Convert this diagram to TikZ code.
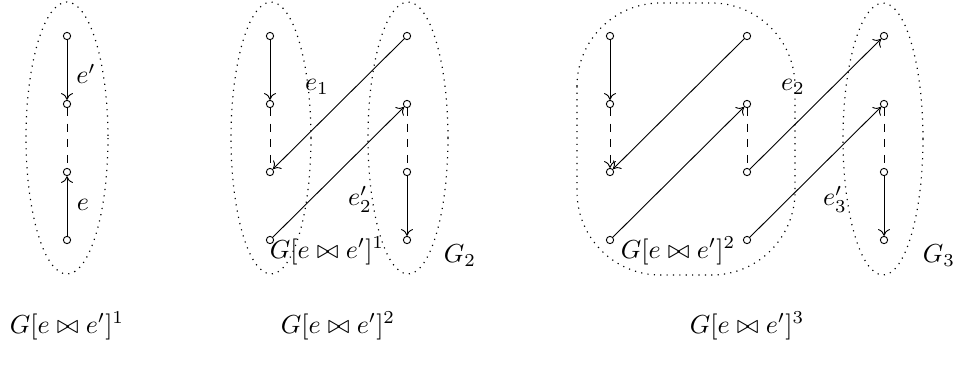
\documentclass[tikz,border=0pt]{standalone}
\usetikzlibrary{arrows.meta}
\begin{document}
\begin{tikzpicture}[x=0.384pt,y=-0.384pt,
  every node/.append style={font=\fontsize{9.6}{11}\selectfont},
  vtx/.style={circle,draw,inner sep=0pt,minimum size=2.8pt,line width=0.35pt},
  edg/.style={-{To[length=2.6pt,width=4.6pt]},line width=0.35pt},
  dsh/.style={dashed,line width=0.35pt},
  grp/.style={dotted,line width=0.45pt},
  lbl/.style={inner sep=0pt}]
\useasboundingbox (0,0) rectangle (954,365);
% picture 1
\foreach \n/\y in {1/36,2/104,3/172,4/240}{\node[vtx] (a\n) at (67,\y) {};}
\draw[edg] (a1) -- (a2);
\draw[dsh] (a2) -- (a3);
\draw[edg] (a4) -- (a3);
\node[lbl] (le1) at (86,74) {$e'$};
\node[lbl] (le) at (83,205) {$e$};
\draw[grp] (67,138) ellipse [x radius=41, y radius=136];
% picture 2
\foreach \n/\y in {1/36,2/104,3/172,4/240}{
  \node[vtx] (b\n) at (270,\y) {};
  \node[vtx] (c\n) at (407,\y) {};}
\draw[edg] (b1) -- (b2);
\draw[dsh] (b2) -- (b3);
\draw[edg] (c1) -- (b3);
\draw[edg] (b4) -- (c2);
\draw[dsh] (c2) -- (c3);
\draw[edg] (c3) -- (c4);
\draw[grp] (271,138) ellipse [x radius=40, y radius=136];
\draw[grp] (408,138) ellipse [x radius=40, y radius=136];
\node[lbl] (le2a) at (317,87) {$e_1$};
\node[lbl] (le2b) at (360,199) {$e_2'$};
\node[lbl] (lg1) at (327,251) {$G[e\bowtie e']^1$};
\node[lbl] (lG2) at (460,256) {$G_2$};
% picture 3
\foreach \n/\y in {1/36,2/104,3/172,4/240}{
  \node[vtx] (d\n) at (610,\y) {};
  \node[vtx] (f\n) at (747,\y) {};
  \node[vtx] (g\n) at (884,\y) {};}
\draw[edg] (d1) -- (d2);
\draw[edg,dashed] (d2) -- (d3);
\draw[edg] (f1) -- (d3);
\draw[edg] (d4) -- (f2);
\draw[dsh] (f2) -- (f3);
\draw[edg] (f3) -- (g1);
\draw[edg] (f4) -- (g2);
\draw[dsh] (g2) -- (g3);
\draw[edg] (g3) -- (g4);
\draw[grp,rounded corners=32] (577,3) rectangle (795,275);
\draw[grp] (883,139) ellipse [x radius=40, y radius=136];
\node[lbl] (le3a) at (793,87) {$e_2$};
\node[lbl] (le3b) at (835,199) {$e_3'$};
\node[lbl] (lg2) at (678,251) {$G[e\bowtie e']^2$};
\node[lbl] (lG3) at (939,256) {$G_3$};
% bottom labels
\node[lbl] (t1) at (67,326) {$G[e\bowtie e']^1$};
\node[lbl] (t2) at (338,326) {$G[e\bowtie e']^2$};
\node[lbl] (t3) at (747,326) {$G[e\bowtie e']^3$};
\end{tikzpicture}
\end{document}
